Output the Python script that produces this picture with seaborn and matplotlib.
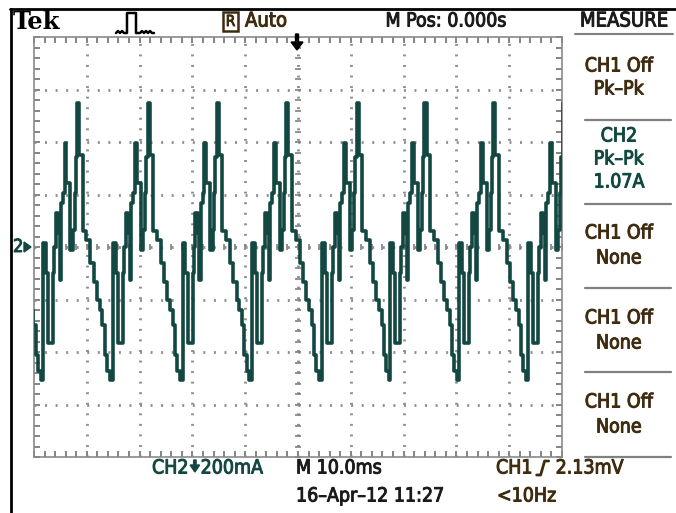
import numpy as np
import pandas as pd
import matplotlib
matplotlib.use("Agg")
import matplotlib.pyplot as plt
import seaborn as sns
from matplotlib import font_manager
from matplotlib.font_manager import FontProperties
from matplotlib.lines import Line2D
from matplotlib.patches import Polygon, Rectangle
import matplotlib.patheffects as pe

time_per_div_ms = 10.0          # M 10.0ms
current_per_div_ma = 200.0      # CH2 200mA
n_div_x = 10
n_div_y = 8

# times of the main peak of each cycle (ms, trigger at 0)
peak_times_ms = [-54.8, -41.7, -28.4, -15.3, -2.1, 11.2, 24.05, 37.1, 50.2]

# one cycle of the stepped current, relative to its peak (ms, mA)
step_offsets_ms = [-6.57, -6.06, -5.62, -4.67, -4.48, -4.17, -3.73, -3.41, -3.16,
                   -2.78, -2.46, -2.15, -1.39, -0.88, -0.57, -0.38, -0.10, 0.30,
                   1.00, 1.64, 2.40, 3.03, 3.66, 4.17, 4.67, 5.11, 5.55, 6.06]
step_levels_ma = [15, -99, -364, -99, 0, 129, 53, -125, 167,
                  205, 395, 243, -11, 65, 205, 341, 547, 349,
                  60, 27, -61, -133, -201, -239, -296, -410, -474, -505]

measure_labels = [("CH1 Off", "Pk\u2013Pk"), ("CH2", "Pk\u2013Pk", "1.07A"),
                  ("CH1 Off", "None"), ("CH1 Off", "None"), ("CH1 Off", "None")]

# ---------------- build table ----------------
rows = []
for p in peak_times_ms:
    for o, v in zip(step_offsets_ms, step_levels_ma):
        rows.append((p + o, v))
df = pd.DataFrame(rows, columns=["t_ms", "i_ma"])

# ---------------- style ----------------
sns.set_theme(style="white")
plt.rcParams["font.family"] = ["Liberation Sans", "DejaVu Sans"]
plt.rcParams["lines.scale_dashes"] = False


def find_face(name, stretches, weight):
    for f in font_manager.fontManager.ttflist:
        if f.name == name and str(f.stretch) in stretches and f.style == "normal" \
                and (f.weight == weight or str(f.weight) == str(weight)):
            return f.fname
    return None


cond_reg = find_face("DejaVu Sans", ("condensed", "semi-condensed"), 400)


def fp(size):
    if cond_reg is not None:
        return FontProperties(fname=cond_reg, size=size)
    return FontProperties(family=["Liberation Sans", "DejaVu Sans"], size=size * 0.9)


W, H = 676, 513
fig = plt.figure(figsize=(W / 100, H / 100), dpi=100)
fig.patch.set_facecolor("white")
renderer = fig.canvas.get_renderer()


def fx(x):
    return x / W


def fy(y):
    return 1 - y / H


def text_px(x, y, s, prop, color, ha="left", thick=0.7):
    t = fig.text(fx(x), fy(y), s, fontproperties=prop, color=color, ha=ha, va="center",
                 path_effects=[pe.withStroke(linewidth=thick, foreground=color)])
    bb = t.get_window_extent(renderer=renderer)
    return bb.x1  # right edge in pixels


L, R, T, B = 34, 562, 37, 457
ax = fig.add_axes([fx(L), fy(B), (R - L) / W, (B - T) / H])
ax.set_facecolor("white")

TEAL = "#134842"
BROWN = "#3f2c10"
BLACK = "#1b1b1b"
GRID = "#8c8c8c"

xmax = n_div_x / 2 * time_per_div_ms
ymax = n_div_y / 2 * current_per_div_ma
ax.set_xlim(-xmax, xmax)
ax.set_ylim(-ymax, ymax)

# graticule: dotted division lines
for k in range(1, n_div_x):
    xv = -xmax + k * time_per_div_ms
    ax.axvline(xv, color=GRID, lw=2.0, ls=(0, (1.4, 6.2)), zorder=1)
for k in range(1, n_div_y):
    yv = -ymax + k * current_per_div_ma
    ax.axhline(yv, color=GRID, lw=2.0, ls=(0, (1.4, 6.2)), zorder=1)

# center-line tick marks
minor_x = np.arange(-xmax, xmax + 0.01, time_per_div_ms / 5)
minor_y = np.arange(-ymax, ymax + 0.01, current_per_div_ma / 5)
ax.plot(minor_x, np.zeros_like(minor_x), ls="none", marker="|", ms=5, mew=1.2,
        color="#808080", zorder=1)
ax.plot(np.zeros_like(minor_y), minor_y, ls="none", marker="_", ms=5, mew=1.2,
        color="#808080", zorder=1)

# trace
sns.lineplot(data=df, x="t_ms", y="i_ma", drawstyle="steps-post", estimator=None,
             sort=False, color=TEAL, lw=2.6, ax=ax, zorder=3)

ax.set_xlabel("")
ax.set_ylabel("")
ax.set_xticks(np.arange(-xmax, xmax + 0.01, time_per_div_ms))
ax.set_yticks(np.arange(-ymax, ymax + 0.01, current_per_div_ma))
ax.set_xticks(minor_x, minor=True)
ax.set_yticks(minor_y, minor=True)
ax.set_xticklabels([])
ax.set_yticklabels([])
ax.tick_params(which="both", direction="in", length=4, width=1.2, color="#707070",
               top=True, right=True, bottom=True, left=True)
for s in ax.spines.values():
    s.set_color("#8a8a8a")
    s.set_linewidth(1.2)

# ---------------- screen decorations ----------------
def hline(x0, x1, y, color, lw):
    fig.add_artist(Line2D([fx(x0), fx(x1)], [fy(y), fy(y)], color=color, lw=lw))


def vline(x, y0, y1, color, lw):
    fig.add_artist(Line2D([fx(x), fx(x)], [fy(y0), fy(y1)], color=color, lw=lw))


hline(10, 676, 9, "black", 2.0)
vline(11, 9, 513, "black", 2.0)

fig.text(fx(13), fy(22), "Tek", family="DejaVu Serif", weight="bold", size=17.5,
         color="black", ha="left", va="center")

# pulse icon
icon = [(116, 33), (118, 31), (120, 33), (122, 31), (124, 33), (127, 33), (127, 13),
        (136, 13), (136, 33), (140, 33), (142, 31), (144, 33), (146, 31), (148, 33),
        (150, 31), (152, 33), (154, 33)]
fig.add_artist(Line2D([fx(a) for a, b in icon], [fy(b) for a, b in icon],
                      color="black", lw=1.8))

# R box + Auto
fig.add_artist(Rectangle((fx(223), fy(31)), 15 / W, 19 / H, fill=False,
                         edgecolor=BROWN, lw=1.8))
text_px(230.5, 21.5, "R", fp(11), BROWN, ha="center")
text_px(245, 21, "Auto", fp(14.5), BROWN)
text_px(446, 21, "M Pos: 0.000s", fp(14), BLACK, ha="center")
text_px(624, 21, "MEASURE", fp(14.5), BLACK, ha="center")
hline(575, 673, 34, "#808080", 1.5)

# trigger position arrow
fig.add_artist(Polygon([(fx(295.5), fy(34)), (fx(298.5), fy(34)), (fx(298.5), fy(42)),
                        (fx(303), fy(42)), (fx(297), fy(50)), (fx(291), fy(42)),
                        (fx(295.5), fy(42))], closed=True, color="black"))

# channel 2 ground marker
text_px(13, 247, "2", fp(13), TEAL)
fig.add_artist(Polygon([(fx(24), fy(242)), (fx(31), fy(247)), (fx(24), fy(252))],
                       closed=True, color=TEAL))

# measurement panel
cx = 619
seps = [120, 204, 288, 372, 457]
line_y = [[66, 89], [136, 159, 182], [233, 258], [318, 343], [402, 427]]
for labels, ys in zip(measure_labels, line_y):
    col = TEAL if labels[0] == "CH2" else BROWN
    for lab, yy in zip(labels, ys):
        text_px(cx, yy, lab, fp(14), col, ha="center")
for sy in seps:
    hline(585, 671, sy, "#808080", 1.6)

# bottom status line
x_end = text_px(152, 468, "CH2", fp(14), TEAL)
a0 = x_end + 2
fig.add_artist(Polygon([(fx(a0 + 3), fy(460)), (fx(a0 + 5.5), fy(460)),
                        (fx(a0 + 5.5), fy(465)), (fx(a0 + 9), fy(465)),
                        (fx(a0 + 4.25), fy(472)), (fx(a0 - 0.5), fy(465)),
                        (fx(a0 + 3), fy(465))], closed=True, color=TEAL))
text_px(a0 + 10, 468, "200mA", fp(14), TEAL)
text_px(296, 468, "M 10.0ms", fp(14), BLACK)
x_end = text_px(496, 468, "CH1", fp(14), BROWN)
s0 = x_end + 4
slope = [(s0, 475), (s0 + 4, 475), (s0 + 8, 461), (s0 + 12, 461)]
fig.add_artist(Line2D([fx(a) for a, b in slope], [fy(b) for a, b in slope],
                      color=BROWN, lw=2.0))
text_px(s0 + 19, 468, "2.13mV", fp(14), BROWN)
text_px(296, 496, "16\u2013Apr\u201312 11:27", fp(14), BLACK)
text_px(497, 496, "<10Hz", fp(14), BROWN)

fig.savefig("out.png", dpi=100, facecolor="white")
